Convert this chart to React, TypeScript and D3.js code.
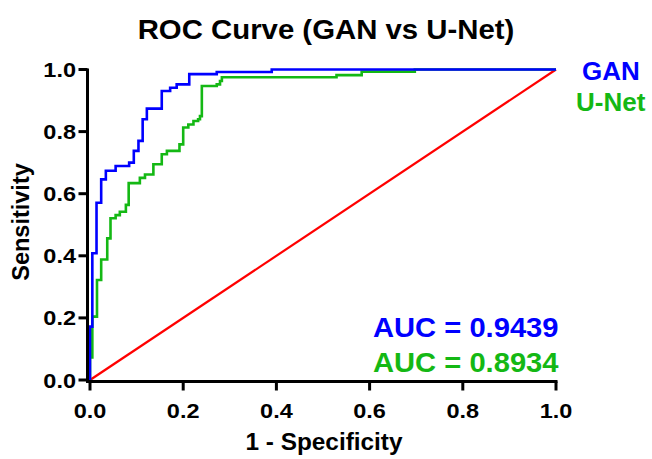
import React from "react";
import * as d3 from "d3";

const ganFpr = [0, 0, 0.005, 0.014, 0.024, 0.034, 0.055, 0.084, 0.094, 0.104, 0.113, 0.122, 0.154, 0.172, 0.186, 0.213, 0.272, 0.39, 1.0];
const ganTpr = [0, 0.172, 0.408, 0.571, 0.646, 0.674, 0.689, 0.7, 0.738, 0.77, 0.84, 0.874, 0.931, 0.941, 0.952, 0.985, 0.992, 1.0, 1.0];

const unetFpr = [0, 0, 0.005, 0.015, 0.024, 0.037, 0.044, 0.055, 0.064, 0.077, 0.083, 0.107, 0.118, 0.136, 0.154, 0.165, 0.192, 0.2, 0.211, 0.222, 0.232, 0.236, 0.24, 0.272, 0.279, 0.283, 0.529, 0.583, 0.697, 1.0];
const unetTpr = [0, 0.073, 0.204, 0.322, 0.388, 0.456, 0.521, 0.531, 0.542, 0.564, 0.634, 0.651, 0.662, 0.695, 0.727, 0.738, 0.759, 0.813, 0.823, 0.834, 0.84, 0.85, 0.947, 0.952, 0.963, 0.975, 0.982, 0.993, 1.0, 1.0];

const refLine = [0, 1];
const ticks = [0, 0.2, 0.4, 0.6, 0.8, 1.0];

const title = "ROC Curve (GAN vs U-Net)";
const xLabel = "1 - Specificity";
const yLabel = "Sensitivity";
const seriesNames = ["GAN", "U-Net"];
const aucLabels = ["AUC = 0.9439", "AUC = 0.8934"];

const BLUE = "#0000FF";
const GREEN = "#14B814";
const RED = "#FF0000";
const FONT = "'Liberation Sans', Arial, Helvetica, sans-serif";

function Txt(props: {
  x: number;
  y: number;
  sx?: number;
  size: number;
  fill?: string;
  anchor?: string;
  children: React.ReactNode;
}) {
  const { x, y, sx = 1, size, fill = "#000", anchor = "start", children } = props;
  return (
    <text
      transform={`translate(${x},${y}) scale(${sx},1)`}
      fontSize={size}
      fill={fill}
      textAnchor={anchor}
    >
      {children}
    </text>
  );
}

export default function App() {
  const x = d3.scaleLinear().domain([0, 1]).range([90, 556]);
  const y = d3.scaleLinear().domain([0, 1]).range([380, 69.5]);
  const step = d3
    .line<[number, number]>()
    .x((d) => x(d[0]))
    .y((d) => y(d[1]))
    .curve(d3.curveStepAfter);
  const straight = d3
    .line<[number, number]>()
    .x((d) => x(d[0]))
    .y((d) => y(d[1]));

  const gan = ganFpr.map((f, i) => [f, ganTpr[i]] as [number, number]);
  const unet = unetFpr.map((f, i) => [f, unetTpr[i]] as [number, number]);
  const diag = refLine.map((v) => [v, v] as [number, number]);

  const axisX0 = 87.5;
  const axisY0 = 381.5;

  return (
    <svg
      width={652}
      height={459}
      style={{ position: "absolute", left: 0, top: 0, background: "#fff" }}
      fontFamily={FONT}
      fontWeight="bold"
    >
      <rect width={652} height={459} fill="#fff" />
      <Txt x={326} y={38.5} sx={1.03} size={28.5} anchor="middle">
        {title}
      </Txt>

      {/* curves */}
      <path d={straight(diag) || ""} fill="none" stroke={RED} strokeWidth={2.2} />
      <path d={step(unet) || ""} fill="none" stroke={GREEN} strokeWidth={2.6} />
      <path d={step(gan) || ""} fill="none" stroke={BLUE} strokeWidth={2.6} />

      {/* axes */}
      <line x1={axisX0} x2={axisX0} y1={axisY0 + 1.5} y2={y(1) - 1} stroke="#000" strokeWidth={3} />
      <line x1={axisX0 - 1.5} x2={x(1) + 1.5} y1={axisY0} y2={axisY0} stroke="#000" strokeWidth={3} />
      {ticks.map((t) => (
        <g key={"x" + t}>
          <line x1={x(t)} x2={x(t)} y1={axisY0} y2={axisY0 + 9} stroke="#000" strokeWidth={3} />
          <Txt x={x(t)} y={417.5} sx={1.12} size={21} anchor="middle">
            {t.toFixed(1)}
          </Txt>
        </g>
      ))}
      {ticks.map((t) => (
        <g key={"y" + t}>
          <line x1={axisX0} x2={axisX0 - 9} y1={y(t)} y2={y(t)} stroke="#000" strokeWidth={3} />
          <Txt x={76} y={y(t) + 7.5} sx={1.12} size={21} anchor="end">
            {t.toFixed(1)}
          </Txt>
        </g>
      ))}

      <Txt x={324} y={450} sx={1.06} size={23} anchor="middle">
        {xLabel}
      </Txt>
      <text
        transform={`translate(29,222) rotate(-90)`}
        textAnchor="middle"
        fontSize={23.5}
        fill="#000"
      >
        {yLabel}
      </text>

      <Txt x={582} y={80} size={26} fill={BLUE}>
        {seriesNames[0]}
      </Txt>
      <Txt x={576} y={111} size={26} fill={GREEN}>
        {seriesNames[1]}
      </Txt>

      <Txt x={373} y={336.5} sx={1.08} size={27} fill={BLUE}>
        {aucLabels[0]}
      </Txt>
      <Txt x={373} y={371.5} sx={1.08} size={27} fill={GREEN}>
        {aucLabels[1]}
      </Txt>
    </svg>
  );
}
